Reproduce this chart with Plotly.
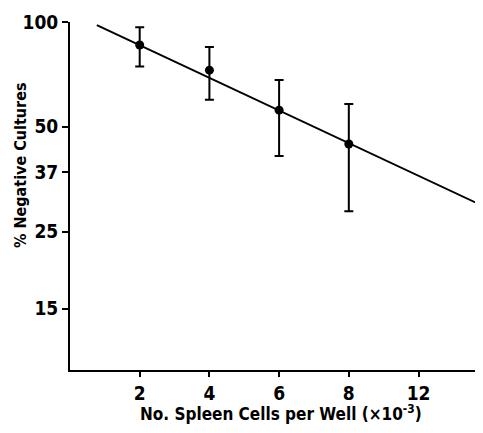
import plotly.graph_objects as go

# Data
cells = [2, 4, 6, 8]                    # x 10^-3 spleen cells per well
pct_negative = [85.9, 72.7, 55.8, 44.6]
err_upper = [96.6, 84.8, 68.1, 58.1]
err_lower = [74.5, 59.8, 41.2, 28.6]

fit_x = [0.77, 11.85]
fit_y = [98.0, 29.6]

x_tickvals = [2, 4, 6, 8, 10]
x_ticktext = ["2", "4", "6", "8", "12"]
y_tickvals = [100, 50, 37, 25, 15]
y_ticktext = ["100", "50", "37", "25", "15"]

FONT = "DejaVu Sans Condensed, Liberation Sans Narrow, Liberation Sans, Arial, sans-serif"

fig = go.Figure()
fig.add_trace(go.Scatter(
    x=fit_x, y=fit_y, mode="lines",
    line=dict(color="black", width=2), showlegend=False, hoverinfo="skip"))
fig.add_trace(go.Scatter(
    x=cells, y=pct_negative, mode="markers",
    marker=dict(color="black", size=9),
    error_y=dict(type="data", symmetric=False,
                 array=[u - m for u, m in zip(err_upper, pct_negative)],
                 arrayminus=[m - l for m, l in zip(pct_negative, err_lower)],
                 color="black", thickness=2, width=4.5),
    showlegend=False))

# page body adds an 8px offset; figure sized so plot area lands where the reference has it
fig.update_layout(
    width=475, height=425,
    margin=dict(l=62, r=0, t=14, b=63),
    paper_bgcolor="white", plot_bgcolor="white",
    font=dict(family=FONT, color="black"),
    xaxis=dict(range=[0, 11.85], tickvals=x_tickvals, ticktext=x_ticktext,
               showgrid=False, zeroline=False, showline=True, linecolor="black",
               linewidth=2, ticks="outside", ticklen=5, tickwidth=2, tickcolor="black",
               tickfont=dict(family=FONT, size=19, color="black", weight="bold"),
               automargin=False),
    yaxis=dict(type="log", range=[1, 2], tickvals=y_tickvals, ticktext=y_ticktext,
               showgrid=False, zeroline=False, showline=True, linecolor="black",
               linewidth=2, ticks="outside", ticklen=6, tickwidth=2, tickcolor="black",
               tickfont=dict(family=FONT, size=19, color="black", weight="bold"),
               automargin=False),
    annotations=[
        dict(text="No. Spleen Cells per Well (\u00d710<sup>-3</sup>)",
             xref="paper", yref="paper", x=(281 - 70) / 413, y=-(413 - 370) / 348,
             xanchor="center", yanchor="middle", showarrow=False,
             font=dict(family=FONT, size=17, color="black", weight="bold")),
        dict(text="% Negative Cultures", textangle=-90,
             xref="paper", yref="paper", x=-(70 - 20) / 413, y=(370 - 165) / 348,
             xanchor="center", yanchor="middle", showarrow=False,
             font=dict(family=FONT, size=16, color="black", weight="bold")),
    ],
)

fig.write_html("out.html")
